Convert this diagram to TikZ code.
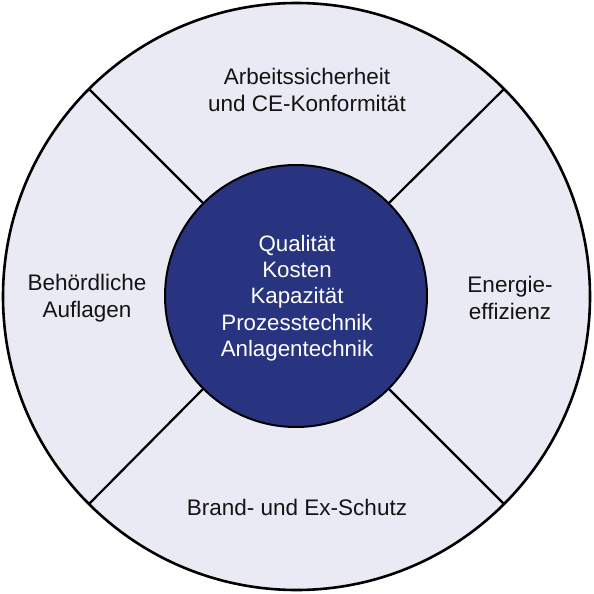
\documentclass[tikz,border=0pt]{standalone}
\usepackage{fontspec}
\setmainfont{Liberation Sans}
\definecolor{ringfill}{RGB}{233,234,243}
\definecolor{coreblue}{RGB}{40,52,128}
\definecolor{txtdark}{RGB}{20,20,20}
\tikzset{
  ringnode/.style={circle, draw=black, fill=ringfill, line width=2.6pt, minimum size=587pt, inner sep=0pt, outer sep=0pt},
  corenode/.style={circle, draw=black, fill=coreblue, line width=2pt, minimum size=262pt, inner sep=0pt, outer sep=0pt},
  divider/.style={draw=black, line width=2.2pt},
  outerlabel/.style={align=center, text=txtdark, font=\fontsize{22.5pt}{26.5pt}\selectfont, inner sep=0pt},
  corelabel/.style={align=center, text=white, font=\fontsize{22.3pt}{26.3pt}\selectfont, inner sep=0pt}
}
\begin{document}
\begin{tikzpicture}[x=1pt,y=-1pt]
\useasboundingbox (0,0) rectangle (594,594);
\node[ringnode] (ring) at (296.5,296.5) {};
\node[corenode] (core) at (296,296) {};
\draw[divider] (core.45) -- (ring.45);
\draw[divider] (core.135) -- (ring.135);
\draw[divider] (core.225) -- (ring.225);
\draw[divider] (core.315) -- (ring.315);
\node[corelabel] (coretext) at (297,298) {Qualität\\Kosten\\Kapazität\\Prozesstechnik\\Anlagentechnik};
\node[outerlabel] (top) at (307,90) {Arbeitssicherheit\\und CE-Konformität};
\node[outerlabel] (bottom) at (297,507) {Brand- und Ex-Schutz};
\node[outerlabel] (left) at (87,298) {Behördliche\\Auflagen};
\node[outerlabel] (right) at (510,298) {Energie-\\effizienz};
\end{tikzpicture}
\end{document}
